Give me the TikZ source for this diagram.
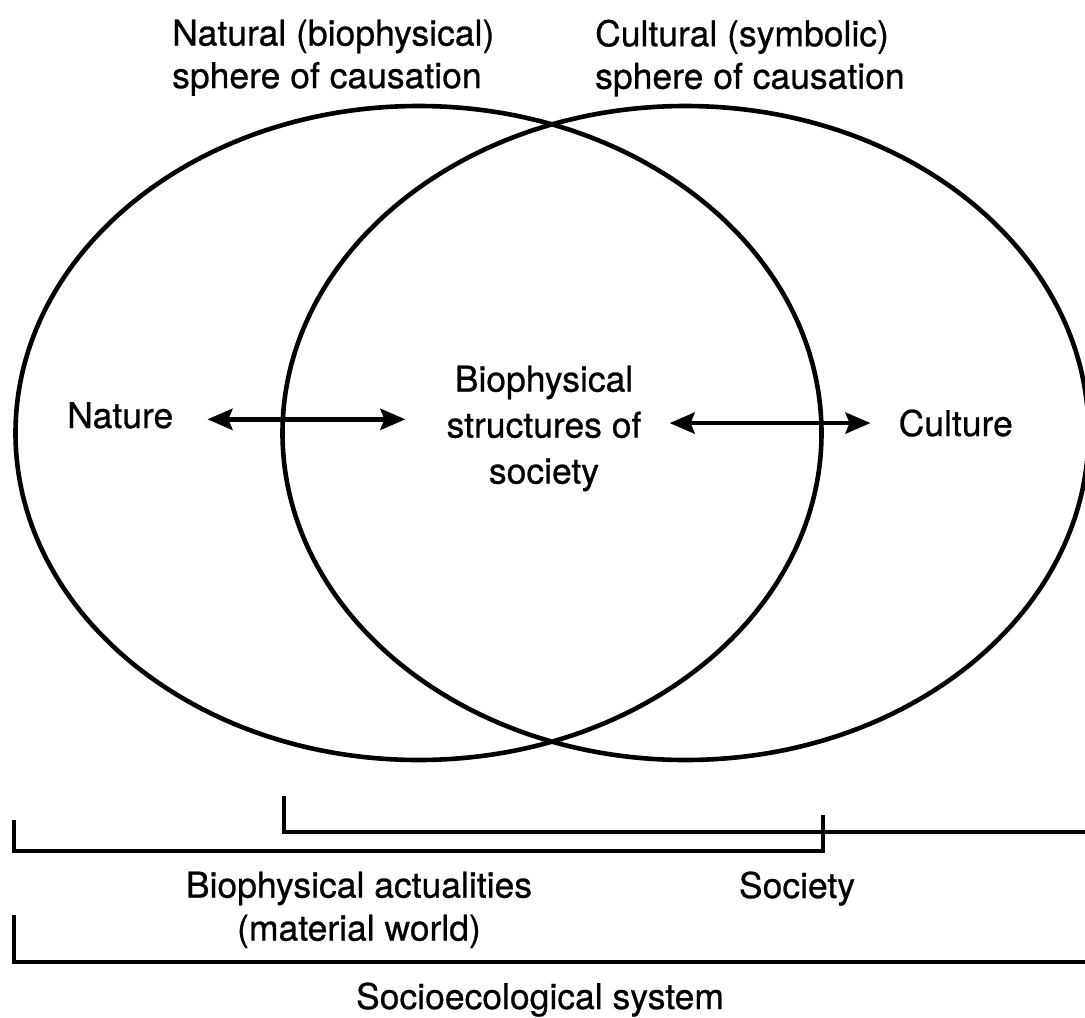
\documentclass[tikz,border=0pt]{standalone}
\usepackage{fontspec}
\setmainfont{TeX Gyre Heros}[FakeBold=0.7]
\usetikzlibrary{shapes.geometric,arrows.meta}
\tikzset{
  sphere/.style={ellipse, draw, line width=4.6pt, inner sep=0pt, minimum width=806pt, minimum height=654pt},
  lbl/.style={inner sep=0pt, font=\fontsize{35.5}{40}\selectfont},
  arr/.style={{Stealth[length=25pt,width=21pt,inset=4pt]}-{Stealth[length=25pt,width=21pt,inset=4pt]}, line width=4.6pt},
  brk/.style={line width=4.2pt, line join=miter}
}
\begin{document}
\begin{tikzpicture}[x=1pt,y=-1pt]
\useasboundingbox (0,0) rectangle (1085,1018);
\begin{scope}
\clip (0,0) rectangle (1085,1018);
\node[sphere] (natural) at (418.5,433) {};
\node[sphere] (cultural) at (685.5,433) {};
\draw[brk] (284,796) -- (284,832) -- (1090,832);
\draw[brk] (14,820) -- (14,851) -- (823,851) -- (823,815);
\draw[brk] (14,915) -- (14,962) -- (1090,962);
\end{scope}
\node[lbl, align=left, anchor=north west, font=\fontsize{35.5}{42.5}\selectfont] (natlbl) at (172,19.5) {Natural (biophysical)\\sphere of causation};
\node[lbl, align=left, anchor=north west, font=\fontsize{35.5}{42.5}\selectfont] (cullbl) at (595,19.5) {Cultural (symbolic)\\sphere of causation};
\node[lbl, anchor=base west] (nature) at (67,428) {Nature};
\node[lbl, anchor=base east] (culture) at (1013,436) {Culture};
\node[lbl, align=center, anchor=north, font=\fontsize{35.5}{46}\selectfont] (center) at (544,365.5) {Biophysical\\structures of\\society};
\draw[arr, shorten <=34pt, shorten >=41pt] ([yshift=-4pt]nature.east) -- ([yshift=-4pt]nature.east -| center.west);
\draw[arr, shorten <=28pt, shorten >=28pt] (culture.west -| center.east) -- (culture.west);
\node[lbl, align=center, anchor=north, font=\fontsize{35.5}{43}\selectfont] (biolbl) at (359,871.5) {Biophysical actualities\\(material world)};
\node[lbl, anchor=base] (soclbl) at (797,898) {Society};
\node[lbl, anchor=base] (selbl) at (540,1009) {Socioecological system};
\end{tikzpicture}
\end{document}
